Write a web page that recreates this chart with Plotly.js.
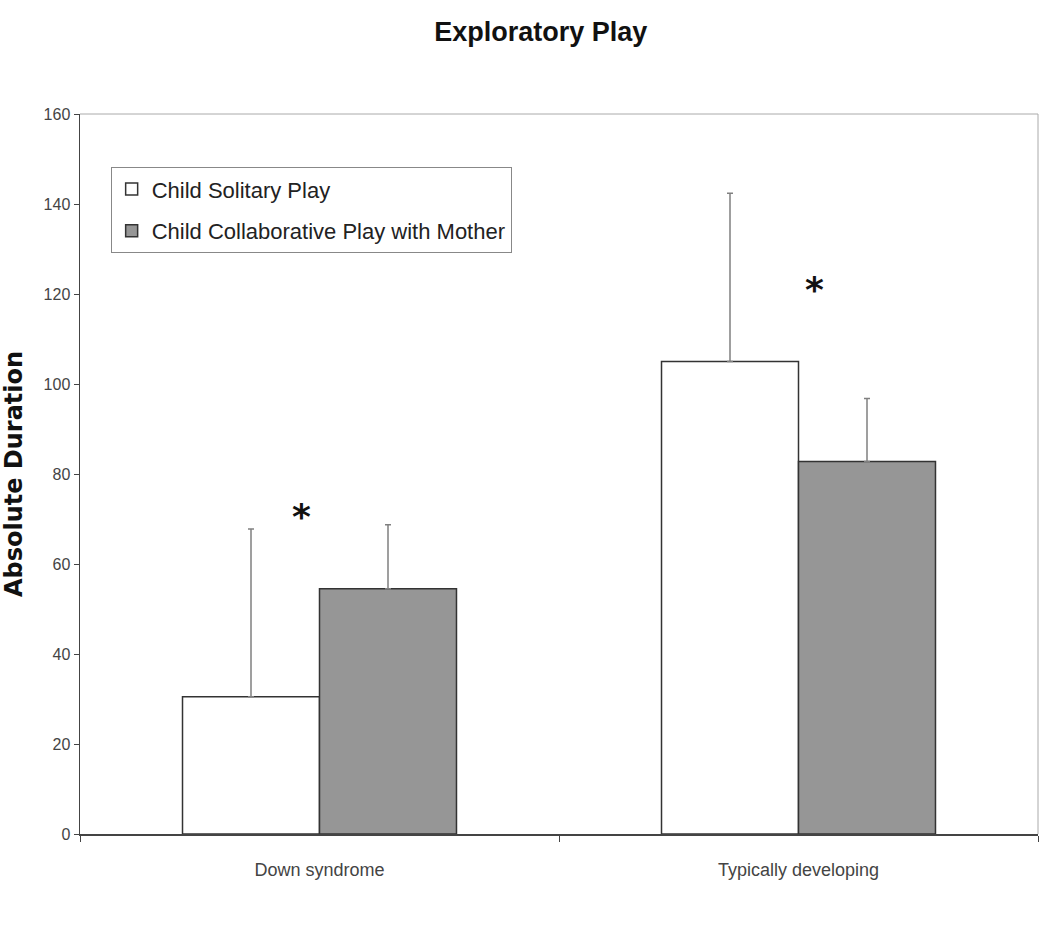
<!DOCTYPE html>
<html>
<head>
<meta charset="utf-8">
<script src="https://cdn.plot.ly/plotly-3.0.1.min.js"></script>
<style>html,body{margin:0;padding:0;background:#fff;}#chart{width:1050px;height:934px;}</style>
</head>
<body>
<div id="chart"></div>
<script>
const categories = ["Down syndrome", "Typically developing"];
const seriesNames = ["Child Solitary Play", "Child Collaborative Play with Mother"];
const solitaryValues = [30.5, 105.0];
const solitaryErrors = [37.3, 37.4];
const collabValues = [54.5, 82.8];
const collabErrors = [14.2, 14.0];
const starLabels = ["*", "*"];
const starValues = [70.5, 121];
const yTicks = [0, 20, 40, 60, 80, 100, 120, 140, 160];

const sans = "'Liberation Sans', Arial, sans-serif";

const traces = [
  {
    type: "bar", name: seriesNames[0], x: categories, y: solitaryValues, legendgroup: "a",
    marker: {color: "#ffffff", line: {color: "#333333", width: 1.5}},
    error_y: {type: "data", symmetric: false, array: solitaryErrors, arrayminus: [0, 0],
      color: "#808080", thickness: 1.5, width: 3}
  },
  {
    type: "bar", name: seriesNames[1], x: categories, y: collabValues, legendgroup: "b",
    marker: {color: "#969696", line: {color: "#333333", width: 1.5}},
    error_y: {type: "data", symmetric: false, array: collabErrors, arrayminus: [0, 0],
      color: "#808080", thickness: 1.5, width: 3}
  }
];

const shifts = [-18, 16];
const annotations = categories.map((c, i) => ({
  x: c, y: starValues[i], xref: "x", yref: "y", text: "<b>" + starLabels[i] + "</b>",
  showarrow: false, xshift: shifts[i],
  font: {family: "'DejaVu Sans', sans-serif", size: 36, color: "#111"}
}));

const layout = {
  width: 1050, height: 934,
  margin: {l: 80, r: 12, t: 114, b: 100},
  paper_bgcolor: "#ffffff", plot_bgcolor: "#ffffff",
  title: {text: "<b>Exploratory Play</b>", x: 0.515, xanchor: "center", y: 0.966, yanchor: "middle",
    font: {family: sans, size: 27, color: "#111"}},
  barmode: "group", bargap: 0.428, bargroupgap: 0,
  xaxis: {
    type: "category", tickson: "boundaries", ticks: "outside", ticklen: 6, tickcolor: "#444",
    showline: true, linecolor: "#444", linewidth: 1.5, mirror: false,
    tickfont: {family: sans, size: 18, color: "#444"}, ticklabelstandoff: 19,
    showgrid: false, zeroline: false, range: [-0.5, 1.5]
  },
  yaxis: {
    range: [0, 160], tickvals: yTicks, ticks: "outside", ticklen: 5, tickcolor: "#444",
    showline: true, linecolor: "#444", linewidth: 1.5, showgrid: false, zeroline: false,
    tickfont: {family: sans, size: 16, color: "#444"},
    title: {text: "<b>Absolute Duration</b>", standoff: 20,
      font: {family: "'DejaVu Sans', sans-serif", size: 24, color: "#111"}}
  },
  legend: {
    x: 0.032, y: 0.926, xanchor: "left", yanchor: "top",
    bgcolor: "#ffffff", bordercolor: "#888", borderwidth: 1,
    font: {family: sans, size: 22, color: "#222"},
    traceorder: "grouped", tracegroupgap: 10, itemwidth: 30
  },
  shapes: [
    {type: "line", xref: "paper", yref: "paper", x0: 0, x1: 1, y0: 1, y1: 1, line: {color: "#aaa", width: 1}},
    {type: "line", xref: "paper", yref: "paper", x0: 1, x1: 1, y0: 0, y1: 1, line: {color: "#aaa", width: 1}}
  ],
  annotations: annotations,
  showlegend: true
};

Plotly.newPlot("chart", traces, layout, {displayModeBar: false, staticPlot: true});
</script>
</body>
</html>
